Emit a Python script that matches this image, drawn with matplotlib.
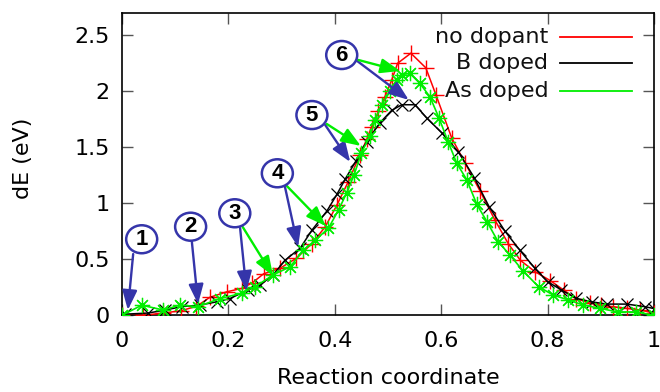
import matplotlib

matplotlib.use("Agg")
import matplotlib.pyplot as plt
from matplotlib.patches import Ellipse, FancyArrowPatch

# NEB energy profiles
no_dopant_x = [0.0, 0.04, 0.077, 0.11, 0.14, 0.165, 0.197, 0.225, 0.245, 0.266, 0.297,
               0.328, 0.357, 0.382, 0.404, 0.425, 0.447, 0.46, 0.469, 0.482, 0.494, 0.507,
               0.518, 0.543, 0.571, 0.59, 0.62, 0.645, 0.673, 0.701, 0.726, 0.749, 0.776,
               0.805, 0.83, 0.853, 0.88, 0.9, 0.923, 0.949, 0.974, 1.0]
no_dopant_y = [0.0, 0.0, 0.02, 0.04, 0.08, 0.16, 0.21, 0.24, 0.29, 0.37, 0.42,
               0.51, 0.64, 0.79, 0.985, 1.19, 1.43, 1.57, 1.68, 1.82, 1.95, 2.10,
               2.25, 2.34, 2.21, 1.97, 1.58, 1.36, 1.11, 0.85, 0.64, 0.49, 0.39,
               0.31, 0.226, 0.15, 0.107, 0.09, 0.077, 0.062, 0.047, 0.02]

b_doped_x = [0.005, 0.049, 0.081, 0.112, 0.147, 0.178, 0.203, 0.237, 0.259, 0.284, 0.306,
             0.335, 0.357, 0.385, 0.404, 0.42, 0.44, 0.46, 0.485, 0.507, 0.526, 0.551,
             0.573, 0.601, 0.632, 0.662, 0.69, 0.72, 0.748, 0.776, 0.80, 0.826, 0.853,
             0.883, 0.911, 0.949, 0.983, 1.0]
b_doped_y = [0.01, 0.02, 0.047, 0.077, 0.092, 0.12, 0.15, 0.226, 0.27, 0.36, 0.49,
             0.60, 0.76, 0.93, 1.08, 1.22, 1.38, 1.55, 1.72, 1.83, 1.88, 1.88,
             1.76, 1.63, 1.46, 1.23, 0.97, 0.75, 0.58, 0.42, 0.30, 0.226, 0.152,
             0.12, 0.10, 0.10, 0.077, 0.06]

as_doped_x = [0.0, 0.037, 0.078, 0.109, 0.143, 0.184, 0.225, 0.25, 0.284, 0.316, 0.341,
              0.363, 0.388, 0.407, 0.422, 0.436, 0.45, 0.466, 0.476, 0.488, 0.504, 0.516,
              0.526, 0.541, 0.56, 0.579, 0.596, 0.613, 0.629, 0.648, 0.667, 0.686, 0.707,
              0.729, 0.753, 0.783, 0.811, 0.839, 0.867, 0.898, 0.932, 0.967, 1.0]
as_doped_y = [0.0, 0.09, 0.047, 0.092, 0.077, 0.15, 0.196, 0.255, 0.36, 0.434, 0.58,
              0.67, 0.777, 0.94, 1.09, 1.25, 1.45, 1.6, 1.74, 1.88, 2.0, 2.1,
              2.15, 2.16, 2.07, 1.95, 1.76, 1.55, 1.36, 1.21, 0.99, 0.836, 0.657,
              0.54, 0.40, 0.255, 0.18, 0.137, 0.092, 0.062, 0.03, 0.03, 0.0]

series_labels = ["no dopant", "B doped", "As doped"]
x_ticks = [0, 0.2, 0.4, 0.6, 0.8, 1]
x_tick_labels = ["0", "0.2", "0.4", "0.6", "0.8", "1"]
y_ticks = [0, 0.5, 1, 1.5, 2, 2.5]
y_tick_labels = ["0", "0.5", "1", "1.5", "2", "2.5"]

# numbered image markers: label, circle centre, blue arrow (tail, tip), green arrow (tail, tip)
callout_labels = ["1", "2", "3", "4", "5", "6"]
callout_centres = [(0.037, 0.679), (0.129, 0.791), (0.212, 0.911),
                   (0.292, 1.268), (0.357, 1.788), (0.413, 2.324)]
blue_arrows = [((0.021, 0.547), (0.011, 0.047)),
               ((0.131, 0.672), (0.143, 0.101)),
               ((0.222, 0.779), (0.234, 0.217)),
               ((0.306, 1.154), (0.331, 0.610)),
               ((0.382, 1.699), (0.429, 1.369)),
               ((0.442, 2.271), (0.539, 1.923))]
green_arrows = [((0.227, 0.788), (0.284, 0.351)),
                ((0.310, 1.154), (0.383, 0.797)),
                ((0.385, 1.708), (0.449, 1.512)),
                ((0.444, 2.280), (0.523, 2.181))]

RED, BLACK, GREEN = "#ff0000", "#000000", "#00ee00"
BLUE = "#3535aa"
FS = 16

W, H = 660, 392
fig = plt.figure(figsize=(W / 100, H / 100), dpi=100, facecolor="white")
ax = fig.add_axes([122 / W, 1 - 315.3 / H, 532 / W, 302.4 / H])
ax.set_xlim(0, 1)
ax.set_ylim(0, 2.7)

ax.plot(no_dopant_x, no_dopant_y, color=RED, lw=1.1, marker="+", ms=11, mew=1.0, zorder=3)
ax.plot(b_doped_x, b_doped_y, color=BLACK, lw=1.1, marker="x", ms=8, mew=0.9, zorder=3)
ax.plot(as_doped_x, as_doped_y, color=GREEN, lw=1.2, marker=(8, 2, 0), ms=11, mew=0.9, zorder=3)

# gnuplot-like legend: right-aligned text with line sample after it
for label, color, ypos in zip(series_labels, [RED, BLACK, GREEN], [0.921, 0.833, 0.742]):
    ax.text(0.801, ypos, label, transform=ax.transAxes, ha="right", va="center",
            fontsize=FS, color="#111111")
    ax.plot([0.823, 0.959], [ypos, ypos], transform=ax.transAxes, color=color, lw=1.3)

# arrows
def arrow(tail, tip, color):
    ax.add_patch(FancyArrowPatch(
        tail, tip,
        arrowstyle="-|>,head_length=0.85,head_width=0.32",
        mutation_scale=14, lw=1.7, color=color,
        shrinkA=0, shrinkB=0, zorder=5,
    ))

for tail, tip in blue_arrows:
    arrow(tail, tip, BLUE)
for tail, tip in green_arrows:
    arrow(tail, tip, GREEN)

# numbered ellipses
for label, (cx, cy) in zip(callout_labels, callout_centres):
    ax.add_patch(Ellipse((cx, cy), 31 / 532, 28 / 112, facecolor="white",
                         edgecolor=BLUE, lw=1.8, zorder=6))
    ax.text(cx, cy, label, ha="center", va="center", fontsize=16, fontweight="bold",
            family="Liberation Sans", color="black", zorder=7)

ax.set_xticks(x_ticks)
ax.set_xticklabels(x_tick_labels)
ax.set_yticks(y_ticks)
ax.set_yticklabels(y_tick_labels)
ax.tick_params(direction="in", top=True, right=True, length=8, width=1.0,
               color="#555555", labelsize=FS, pad=9)
ax.tick_params(axis="x", pad=11)
for s in ax.spines.values():
    s.set_linewidth(1.2)

ax.set_xlabel("Reaction coordinate", fontsize=FS)
ax.xaxis.set_label_coords(0.5, -0.175)
ax.set_ylabel("dE (eV)", fontsize=FS)
ax.yaxis.set_label_coords(-0.167, 0.52)

fig.savefig("out.png", dpi=100, facecolor="white")
